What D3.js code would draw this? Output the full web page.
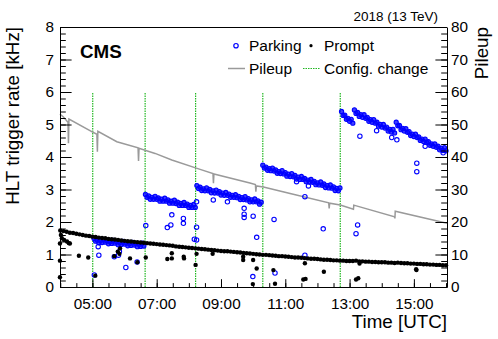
<!DOCTYPE html>
<html><head><meta charset="utf-8">
<script src="https://cdn.jsdelivr.net/npm/d3@7"></script>
<style>
html,body{margin:0;padding:0;background:#fff;}
svg{display:block;font-family:"Liberation Sans",Arial,Helvetica,sans-serif;}
</style></head><body>
<svg id="chart" width="498" height="339"></svg>
<script>
// ---------------- DATA ----------------
const xTickHours = [5, 7, 9, 11, 13, 15];
const xTickLabels = ["05:00", "07:00", "09:00", "11:00", "13:00", "15:00"];
const rateTicks = [0, 1, 2, 3, 4, 5, 6, 7, 8];
const pileupTicks = [0, 10, 20, 30, 40, 50, 60, 70, 80];

const configChanges = [5.01, 6.64, 8.21, 10.30, 12.71];

const pileupTimes  = [3.99, 4.10, 4.24, 4.255, 4.27, 4.98, 5.14, 5.155, 5.17, 5.76, 6.42, 6.435, 6.45, 6.95, 7.47, 8.35, 8.75, 8.765, 8.78, 9.90, 10.07, 10.085, 10.10, 10.32, 11.15, 12.35, 12.365, 12.38, 12.71, 13.12, 13.13, 14.40, 14.41, 14.42, 16.03];
const pileupValues = [53.2, 52.3, 50.7, 44.2, 51.7, 47.8, 47.0, 41.6, 47.9, 44.7, 42.8, 38.8, 42.7, 41.1, 39.1, 36.2, 34.9, 31.9, 34.8, 32.0, 31.5, 29.3, 31.1, 30.8, 28.8, 25.9, 24.2, 25.8, 25.2, 23.9, 25.2, 21.6, 21.1, 23.3, 19.6];

const promptStart = 4.0, promptStep = 0.1;
const promptBand = [
 1.74,1.72,1.70,1.67,1.66,1.64,1.62,1.60,1.58,1.57,
 1.55,1.54,1.52,1.51,1.50,1.48,1.47,1.46,1.45,1.43,
 1.42,1.41,1.40,1.39,1.38,1.37,1.36,1.35,1.34,1.33,
 1.32,1.31,1.30,1.29,1.28,1.27,1.25,1.24,1.23,1.22,
 1.21,1.20,1.19,1.18,1.17,1.16,1.15,1.14,1.13,1.12,
 1.11,1.10,1.10,1.09,1.08,1.07,1.06,1.05,1.04,1.03,
 1.02,1.01,1.00,0.99,0.99,0.98,0.97,0.96,0.95,0.95,
 0.94,0.93,0.92,0.91,0.91,0.90,0.89,0.88,0.87,0.87,
 0.86,0.85,0.84,0.84,0.83,0.82,0.82,0.81,0.81,0.80,
 0.80,0.80,0.81,0.79,0.79,0.78,0.78,0.77,0.77,0.76,
 0.76,0.76,0.75,0.75,0.74,0.75,0.74,0.73,0.73,0.72,
 0.72,0.71,0.71,0.70,0.70,0.69,0.69,0.68,0.68,0.67,
 0.67];
const promptOutliers = [
 [3.99,1.34],[3.99,0.81],[3.99,0.30],[4.02,1.60],[4.05,1.50],[4.12,1.45],[4.21,1.40],[4.27,1.35],[4.30,1.34],
 [4.58,0.96],[4.87,0.91],[5.09,0.35],[5.68,0.95],[5.79,1.09],[5.84,1.02],[5.86,1.19],[6.17,0.88],[6.40,0.76],
 [6.66,0.91],[7.33,0.86],[7.47,1.04],[7.47,0.88],[7.84,0.93],[7.85,0.88],[8.21,0.68],[8.24,1.02],[8.74,1.02],
 [9.69,0.93],[9.69,0.83],[10.00,0.83],[10.11,0.57],[9.99,0.09],[10.63,0.52],[10.68,0.10],[11.61,0.73],
 [11.56,0.23],[11.63,0.25],[12.20,0.47],[13.20,0.23],[13.27,0.27],[13.31,0.72],[15.07,0.55],[15.08,0.52]];

const parkingStep = 0.05;
const parkingStarts = [5.05, 6.65, 8.25, 10.30, 12.75];
const parkingSeg1 = [1.49,1.41,1.45,1.36,1.42,1.37,1.46,1.38,1.42,1.33,1.39,1.34,1.43,1.35,1.39,1.30,1.36,1.31,1.40,1.32,1.36,1.27,1.33,1.28,1.37,1.29,1.34,1.24,1.31,1.25,1.35,1.26];
const parkingSeg2 = [2.85,2.76,2.80,2.70,2.76,2.70,2.79,2.70,2.74,2.64,2.70,2.64,2.73,2.64,2.68,2.58,2.64,2.58,2.67,2.57,2.61,2.51,2.57,2.51,2.60,2.51,2.55,2.45,2.51,2.45,2.54,2.45];
const parkingSeg3 = [3.12,3.03,3.07,2.97,3.02,2.96,3.05,2.96,3.00,2.90,2.96,2.89,2.98,2.89,2.93,2.83,2.89,2.82,2.91,2.82,2.86,2.76,2.82,2.76,2.84,2.75,2.79,2.69,2.75,2.69,2.78,2.68,2.72,2.62,2.68,2.62,2.71,2.62,2.65,2.55,2.61];
const parkingSeg4 = [3.75,3.66,3.69,3.59,3.64,3.58,3.66,3.57,3.60,3.50,3.55,3.49,3.58,3.48,3.52,3.41,3.47,3.40,3.49,3.39,3.43,3.32,3.38,3.31,3.40,3.31,3.34,3.24,3.29,3.23,3.31,3.22,3.25,3.15,3.20,3.14,3.23,3.13,3.17,3.06,3.12,3.05,3.14,3.04,3.08,2.97,3.03,2.96,3.05];
const parkingSeg5 = [5.40,5.28,5.29,5.16,5.19,5.10,5.16,5.04,
 5.45,5.34,5.37,5.25,5.30,5.22,5.30,5.19,5.22,5.10,5.15,5.07,5.15,5.04,5.07,4.95,5.00,4.92,5.00,4.89,4.92,4.80,4.85,4.77,4.85,4.74,
 5.07,4.96,4.97,4.84,4.88,4.80,4.87,4.76,4.78,4.66,4.70,4.63,4.70,4.60,4.62,4.51,4.55,4.48,4.55,4.45,4.47,4.36,4.40,4.33,4.40,4.30,4.33,4.22,4.27,4.20,4.29,4.19];
const parkingOutliers = [
 [5.06,0.37],[5.18,1.24],[5.20,0.98],[5.68,0.93],[5.81,0.98],[5.84,1.09],[6.04,0.60],[6.39,0.77],
 [6.66,1.89],[7.33,1.83],[7.44,1.91],[7.47,2.22],[7.83,2.11],[7.83,1.96],[8.17,1.47],[8.24,2.62],[8.24,1.84],[8.24,1.45],
 [8.76,2.68],[9.20,2.62],[9.72,2.42],[9.72,2.24],[9.72,2.14],[10.00,2.18],[10.11,1.53],[9.99,0.32],
 [10.65,2.08],[10.68,0.43],[11.61,2.78],[11.61,0.98],[11.35,3.24],[11.72,3.11],[12.18,1.79],
 [13.20,1.64],[13.25,1.91],[13.32,4.64],[13.84,4.81],[14.31,4.60],[14.47,4.53],[15.09,3.81],[15.09,3.55],[15.35,4.33],[15.91,4.13]];

// ---------------- CHART ----------------
const L = 60, R = 447, T = 27, B = 287;
const svg = d3.select("#chart");
const x = d3.scaleLinear().domain([3.992, 16.03]).range([L, R]);
const y = d3.scaleLinear().domain([0, 8]).range([B, T]);
const y2 = d3.scaleLinear().domain([0, 80]).range([B, T]);

const BLUE = "#0000ff", GREEN = "#22b822", GRAY = "#9a9a9a";

// config change lines
svg.append("g").selectAll("line").data(configChanges).join("line")
  .attr("x1", d => x(d)).attr("x2", d => x(d))
  .attr("y1", y(0)).attr("y2", y(6))
  .attr("stroke", GREEN).attr("stroke-width", 1.2).attr("stroke-dasharray", "1.5,1");

// pileup line
const pileupData = pileupTimes.map((t, i) => [t, pileupValues[i]]);
svg.append("path").datum(pileupData)
  .attr("d", d3.line().x(d => x(d[0])).y(d => y2(d[1])))
  .attr("fill", "none").attr("stroke", GRAY).attr("stroke-width", 1.5);

// parking points (dense bands, then isolated points)
const parkingSegs = [parkingSeg1, parkingSeg2, parkingSeg3, parkingSeg4, parkingSeg5];
const parkingBandData = [];
parkingSegs.forEach((seg, s) => seg.forEach((v, i) => parkingBandData.push([parkingStarts[s] + i * parkingStep, v])));
svg.append("g").selectAll("circle").data(parkingBandData).join("circle")
  .attr("cx", d => x(d[0])).attr("cy", d => y(d[1])).attr("r", 2.1)
  .attr("fill", BLUE).attr("fill-opacity", 0.75).attr("stroke", BLUE).attr("stroke-width", 1.1);
svg.append("g").selectAll("circle").data(parkingOutliers).join("circle")
  .attr("cx", d => x(d[0])).attr("cy", d => y(d[1])).attr("r", 2.2)
  .attr("fill", "none").attr("stroke", BLUE).attr("stroke-width", 1.1);

// prompt points
const promptData = promptBand.map((v, i) => [promptStart + i * promptStep, v]).concat(promptOutliers);
svg.append("g").selectAll("circle").data(promptData).join("circle")
  .attr("cx", d => x(d[0])).attr("cy", d => y(d[1])).attr("r", 2.2)
  .attr("fill", "#000");

// frame top
svg.append("line").attr("x1", L).attr("x2", R).attr("y1", T + 0.5).attr("y2", T + 0.5)
  .attr("stroke", "#000").attr("stroke-width", 1);

const FONT = '"Liberation Sans",Arial,Helvetica,sans-serif';
function styleAxis(g) {
  g.attr("font-family", FONT).attr("font-size", null).style("font-size", "15.3px");
  g.selectAll("text").attr("fill", "#000");
}

// minor ticks
const xMinor = d3.range(4, 16.01, 0.5).filter(h => h > 3.992);
const yMinor = d3.range(0, 8.001, 0.2);
const y2Minor = d3.range(0, 80.01, 2);

svg.append("g").attr("transform", `translate(0,${B})`)
  .call(d3.axisBottom(x).tickValues(xMinor).tickSize(-3.9).tickFormat(""))
  .call(g => g.select(".domain").remove());
svg.append("g").attr("transform", `translate(${L},0)`)
  .call(d3.axisLeft(y).tickValues(yMinor).tickSize(-5.8).tickFormat(""))
  .call(g => g.select(".domain").remove());
svg.append("g").attr("transform", `translate(${R},0)`)
  .call(d3.axisRight(y2).tickValues(y2Minor).tickSize(-5.8).tickFormat(""))
  .call(g => g.select(".domain").remove());

// major axes
svg.append("g").attr("transform", `translate(0,${B})`)
  .call(d3.axisBottom(x).tickValues(xTickHours).tickSize(-7.8).tickSizeOuter(0).tickPadding(11)
    .tickFormat((d, i) => xTickLabels[i]))
  .call(styleAxis);
svg.append("g").attr("transform", `translate(${L},0)`)
  .call(d3.axisLeft(y).tickValues(rateTicks).tickSize(-11.6).tickSizeOuter(0).tickPadding(6).tickFormat(d3.format("d")))
  .call(styleAxis);
svg.append("g").attr("transform", `translate(${R},0)`)
  .call(d3.axisRight(y2).tickValues(pileupTicks).tickSize(-11.6).tickSizeOuter(0).tickPadding(4).tickFormat(d3.format("d")))
  .call(styleAxis);

// titles
svg.append("text").attr("x", R).attr("y", 328).attr("text-anchor", "end")
  .style("font-size", "18.8px").text("Time [UTC]");
svg.append("text").attr("transform", `translate(19,${T}) rotate(-90)`).attr("text-anchor", "end")
  .style("font-size", "18.8px").text("HLT trigger rate [kHz]");
svg.append("text").attr("transform", `translate(488,${T}) rotate(-90)`).attr("text-anchor", "end")
  .style("font-size", "18.8px").text("Pileup");
svg.append("text").attr("x", 438).attr("y", 21).attr("text-anchor", "end")
  .style("font-size", "13.5px").text("2018 (13 TeV)");
svg.append("text").attr("x", 80).attr("y", 58).style("font-size", "18.8px").attr("font-weight", "bold").text("CMS");

// legend
const lg = svg.append("g").style("font-size", "15.5px");
lg.append("circle").attr("cx", 236).attr("cy", 45.7).attr("r", 2.2).attr("fill", "none").attr("stroke", BLUE).attr("stroke-width", 1.2);
lg.append("text").attr("x", 249).attr("y", 51).text("Parking");
lg.append("circle").attr("cx", 311).attr("cy", 45.7).attr("r", 1.6).attr("fill", "#000");
lg.append("text").attr("x", 324).attr("y", 51).text("Prompt");
lg.append("line").attr("x1", 228).attr("x2", 245).attr("y1", 68.5).attr("y2", 68.5).attr("stroke", GRAY).attr("stroke-width", 1.5);
lg.append("text").attr("x", 249).attr("y", 74).text("Pileup");
lg.append("line").attr("x1", 303).attr("x2", 320).attr("y1", 68.5).attr("y2", 68.5).attr("stroke", GREEN).attr("stroke-width", 1.2).attr("stroke-dasharray", "1.5,1");
lg.append("text").attr("x", 324).attr("y", 74).text("Config. change");
</script>
</body></html>
